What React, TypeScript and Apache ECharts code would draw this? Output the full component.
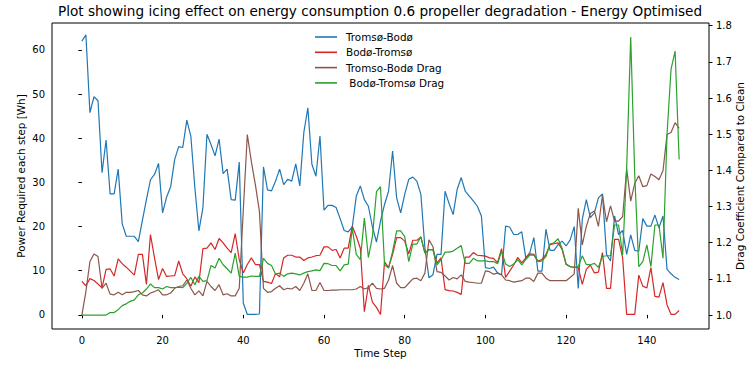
import React, { useEffect, useRef } from "react";
import * as echarts from "echarts";

// Energy per time step (left axis, Wh)
const tromsoBodo = [
  62.0, 63.4, 45.8, 49.4, 48.5, 32.2, 39.6, 27.4, 27.4, 33.0,
  20.6, 17.8, 17.8, 17.8, 16.6, 21.4, 26.1, 30.6, 31.8, 34.3,
  23.1, 26.7, 29.0, 35.2, 38.1, 37.9, 44.1, 40.5, 28.8, 19.0,
  24.3, 40.9, 38.6, 36.0, 39.8, 32.0, 33.0, 26.1, 26.0, 34.6,
  2.7, 0.1, 0.1, 0.1, 0.2, 33.5, 28.3, 28.1, 30.3, 33.0,
  29.5, 30.7, 30.3, 34.2, 29.2, 41.3, 46.9, 34.1, 31.4, 40.5,
  23.7, 24.8, 24.8, 24.3, 21.8, 19.1, 18.8, 19.9, 26.9, 29.2,
  26.1, 24.6, 19.9, 16.5, 21.2, 25.0, 28.0, 37.1, 26.5, 23.1,
  27.3, 30.7, 31.2, 30.3, 27.3, 15.2, 8.4, 9.1, 13.7, 13.7,
  28.0, 25.2, 22.7, 28.4, 31.1, 28.0, 26.9, 25.8, 24.6, 22.4,
  10.7, 10.5, 10.8, 9.5, 9.1, 20.1, 19.9, 18.2, 18.2, 18.8,
  12.9, 14.1, 17.5, 9.9, 9.9, 19.4, 14.6, 14.6, 15.9, 16.7,
  15.6, 17.0, 20.0, 6.0, 21.6, 26.1, 22.0, 23.1, 26.5, 27.4,
  13.7, 12.2, 22.4, 18.2, 19.1, 13.7, 18.1, 14.6, 14.4, 21.8,
  20.1, 20.1, 22.6, 19.7, 22.4, 10.3, 9.3, 8.5, 8.0,
];

const bodoTromso = [
  7.6, 6.6, 8.2, 7.8, 7.0, 6.1, 10.3, 10.4, 8.8, 12.7,
  11.6, 10.8, 9.9, 9.0, 13.7, 13.7, 6.9, 18.2, 12.9, 8.0,
  10.5, 8.7, 8.8, 8.9, 12.2, 9.3, 8.2, 6.5, 8.6, 7.3,
  15.0, 15.1, 16.3, 14.8, 17.3, 16.3, 15.1, 14.1, 18.4, 12.5,
  9.5, 11.4, 12.9, 11.4, 11.4, 7.6, 7.4, 7.1, 9.4, 8.6,
  12.9, 13.5, 13.5, 13.1, 13.1, 12.3, 12.9, 13.1, 13.4, 13.5,
  15.4, 15.4, 14.6, 14.8, 12.9, 15.1, 15.1, 20.1, 17.8, 15.1,
  0.7, 6.7, 2.9, 1.7, 0.1, 12.0, 10.7, 13.7, 17.5, 17.5,
  16.7, 13.8, 16.9, 16.9, 17.6, 14.1, 14.8, 14.8, 11.8, 12.9,
  5.7, 5.5, 5.4, 5.1, 4.6, 13.1, 13.1, 14.1, 13.5, 13.4,
  13.3, 12.9, 12.8, 11.8, 15.0, 8.5, 9.9, 11.3, 13.0, 11.8,
  12.9, 13.8, 13.7, 12.2, 12.5, 13.7, 15.9, 16.1, 16.3, 14.8,
  11.4, 10.9, 10.8, 10.7, 6.9, 10.3, 11.3, 9.5, 9.7, 14.1,
  6.0, 6.0, 17.1, 17.1, 12.9, 0.1, 0.1, 0.1, 9.0, 6.5,
  6.1, 10.7, 4.2, 4.0, 7.3, 2.3, 0.1, 0.1, 1.0,
];

// Drag coefficient relative to a clean propeller (right axis)
const tromsoBodoDrag = [
  1.0, 1.065, 1.148, 1.169, 1.162, 1.074, 1.088, 1.058, 1.056, 1.063,
  1.056, 1.063, 1.063, 1.065, 1.068, 1.056, 1.053, 1.061, 1.065, 1.07,
  1.056, 1.056, 1.061, 1.074, 1.079, 1.081, 1.097, 1.074, 1.056, 1.067,
  1.053, 1.093, 1.079, 1.068, 1.084, 1.056, 1.059, 1.053, 1.053, 1.074,
  1.29, 1.499, 1.424, 1.36, 1.286, 1.074, 1.063, 1.065, 1.074, 1.081,
  1.07, 1.074, 1.072, 1.079, 1.068, 1.088, 1.114, 1.068, 1.068, 1.09,
  1.068, 1.068, 1.069, 1.069, 1.07, 1.07, 1.07, 1.07, 1.072, 1.079,
  1.072, 1.076, 1.088, 1.074, 1.072, 1.074, 1.097, 1.137, 1.088, 1.076,
  1.076, 1.088, 1.1, 1.102, 1.095, 1.116, 1.208, 1.189, 1.12, 1.118,
  1.108, 1.097, 1.104, 1.1, 1.111, 1.093, 1.091, 1.09, 1.088, 1.088,
  1.122, 1.12, 1.113, 1.116, 1.111, 1.097, 1.095, 1.091, 1.093, 1.095,
  1.102, 1.102, 1.093, 1.116, 1.116, 1.102, 1.095, 1.095, 1.095, 1.095,
  1.095, 1.104, 1.114, 1.295, 1.194, 1.245, 1.281, 1.288, 1.245, 1.332,
  1.258, 1.302, 1.26, 1.26, 1.272, 1.404, 1.315, 1.364, 1.385, 1.355,
  1.358, 1.39, 1.383, 1.374, 1.399, 1.499, 1.505, 1.532, 1.516,
];

const bodoTromsoDrag = [
  1.0, 1.0, 1.0, 1.0, 1.0, 1.0, 1.0, 1.007, 1.007, 1.015,
  1.026, 1.031, 1.038, 1.042, 1.056, 1.061, 1.072, 1.086, 1.076, 1.076,
  1.072, 1.079, 1.076, 1.076, 1.077, 1.076, 1.088, 1.104, 1.084, 1.107,
  1.093, 1.095, 1.137, 1.13, 1.157, 1.139, 1.128, 1.116, 1.171, 1.107,
  1.105, 1.105, 1.108, 1.107, 1.107, 1.157, 1.143, 1.137, 1.113, 1.116,
  1.107, 1.114, 1.116, 1.114, 1.111, 1.116, 1.12, 1.122, 1.125, 1.123,
  1.143, 1.142, 1.137, 1.137, 1.122, 1.139, 1.141, 1.24, 1.168, 1.153,
  1.268, 1.159, 1.217, 1.341, 1.355, 1.139, 1.13, 1.176, 1.233, 1.233,
  1.217, 1.148, 1.196, 1.196, 1.217, 1.171, 1.18, 1.18, 1.139, 1.153,
  1.174, 1.174, 1.177, 1.185, 1.192, 1.143, 1.143, 1.157, 1.15, 1.15,
  1.15, 1.148, 1.148, 1.142, 1.177, 1.141, 1.134, 1.141, 1.153, 1.139,
  1.153, 1.166, 1.166, 1.148, 1.15, 1.162, 1.196, 1.2, 1.211, 1.185,
  1.141, 1.134, 1.131, 1.134, 1.164, 1.14, 1.139, 1.143, 1.132, 1.162,
  1.164, 1.164, 1.249, 1.249, 1.166, 1.406, 1.769, 1.387, 1.134, 1.148,
  1.194, 1.134, 1.249, 1.249, 1.157, 1.5, 1.68, 1.73, 1.43,
];

const seriesNames = ["Tromsø-Bodø", "Bodø-Tromsø", "Tromso-Bodø Drag", " Bodø-Tromsø Drag"];
const seriesColors = ["#1f77b4", "#d62728", "#8c564b", "#2ca02c"];

const xTicks = [0, 20, 40, 60, 80, 100, 120, 140];
const powerTicks = [0, 10, 20, 30, 40, 50, 60];
const dragTicks = [1.0, 1.1, 1.2, 1.3, 1.4, 1.5, 1.6, 1.7, 1.8];

const FONT = "DejaVu Sans, Verdana, sans-serif";

const toPairs = (values: number[]) => values.map((v, i) => [i, v]);

export default function App() {
  const ref = useRef<HTMLDivElement>(null);

  useEffect(() => {
    if (!ref.current) return;
    const chart = echarts.init(ref.current, null, { renderer: "svg" });

    const tickText = { fontSize: 10, color: "#000", fontFamily: FONT };
    const seriesData = [tromsoBodo, bodoTromso, tromsoBodoDrag, bodoTromsoDrag];

    chart.setOption({
      animation: false,
      backgroundColor: "#fff",
      title: {
        text: "Plot showing icing effect on energy consumption 0.6 propeller degradation - Energy Optimised",
        left: 380,
        top: 4,
        padding: 0,
        textAlign: "center",
        textStyle: { fontSize: 13.6, fontWeight: "normal", color: "#000", fontFamily: FONT },
      },
      legend: {
        orient: "vertical",
        left: 315,
        top: 31,
        padding: 0,
        itemGap: 3.3,
        itemWidth: 22,
        itemHeight: 1.6,
        icon: "rect",
        textStyle: { ...tickText, fontSize: 10.4, lineHeight: 12, padding: [0, 0, 0, 4] },
        data: seriesNames,
      },
      grid: {
        left: 52,
        right: 40,
        top: 23,
        bottom: 39,
        containLabel: false,
        outerBoundsMode: "none",
        show: true,
        borderColor: "#000",
        borderWidth: 1,
        backgroundColor: "transparent",
      },
      xAxis: {
        type: "value",
        min: -7.4,
        max: 155.4,
        name: "Time Step",
        nameLocation: "middle",
        nameGap: 19,
        nameMoveOverlap: false,
        nameTextStyle: { ...tickText, fontSize: 10.4 },
        axisLine: { show: false },
        axisTick: { show: true, length: 3.5, customValues: xTicks, lineStyle: { color: "#000" } },
        axisLabel: { ...tickText, margin: 6, customValues: xTicks },
        splitLine: { show: false },
      },
      yAxis: [
        {
          type: "value",
          position: "left",
          min: -3.2,
          max: 66.1,
          name: "Power Required each step [Wh]",
          nameLocation: "middle",
          nameRotate: 90,
          nameGap: 26,
          nameMoveOverlap: false,
          nameTextStyle: { ...tickText, fontSize: 10.4 },
          axisLine: { show: false },
          axisTick: { show: true, length: 3.5, customValues: powerTicks, lineStyle: { color: "#000" } },
          axisLabel: { ...tickText, margin: 7, customValues: powerTicks },
          splitLine: { show: false },
        },
        {
          type: "value",
          position: "right",
          min: 0.9615,
          max: 1.8075,
          name: "Drag Coefficient Compared to Clean",
          nameLocation: "middle",
          nameRotate: 90,
          nameGap: 26,
          nameMoveOverlap: false,
          nameTextStyle: { ...tickText, fontSize: 10.4 },
          axisLine: { show: false },
          axisTick: { show: true, length: 3.5, customValues: dragTicks, lineStyle: { color: "#000" } },
          axisLabel: {
            ...tickText,
            margin: 7,
            customValues: dragTicks,
            formatter: (v: number) => v.toFixed(1),
          },
          splitLine: { show: false },
        },
      ],
      series: seriesData.map((values, k) => ({
        name: seriesNames[k],
        type: "line",
        yAxisIndex: k < 2 ? 0 : 1,
        data: toPairs(values),
        showSymbol: false,
        symbol: "none",
        color: seriesColors[k],
        lineStyle: { width: 1.2, color: seriesColors[k] },
        z: 2 + k,
      })),
    });

    return () => chart.dispose();
  }, []);

  return (
    <div
      ref={ref}
      style={{ position: "absolute", left: 0, top: 0, width: 749, height: 368 }}
    />
  );
}
